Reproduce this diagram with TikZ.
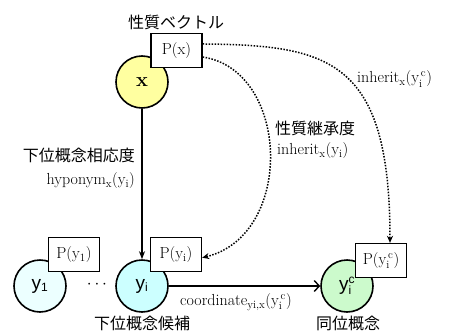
\documentclass[tikz,border=0pt]{standalone}
\usepackage{fontspec}
\newfontfamily\jp{Noto Sans CJK JP}
\newfontfamily\ysans{Liberation Sans}
\usetikzlibrary{arrows.meta}
\definecolor{xfill}{RGB}{255,255,160}
\definecolor{yonefill}{RGB}{236,255,255}
\definecolor{yifill}{RGB}{204,255,255}
\definecolor{ycfill}{RGB}{204,250,204}
\newcommand{\ssc}[1]{\hbox{\ysans\fontsize{12}{12}\selectfont #1}}
\begin{document}
\begin{tikzpicture}[x=1pt,y=-1pt,
 concept/.style={circle,draw=black,line width=1.6pt,minimum size=52pt,inner sep=0pt},
 pbox/.style={rectangle,draw=black,fill=white,line width=1.3pt,minimum width=51pt,minimum height=34pt,inner sep=0pt,font=\fontsize{16}{18}\selectfont},
 jlabel/.style={font=\jp\fontsize{16}{18}\selectfont,inner sep=0pt},
 mlabel/.style={font=\fontsize{16}{18}\selectfont,inner sep=0pt},
 clabel/.style={font=\ysans\fontsize{19}{21}\selectfont},
 dotarrow/.style={line width=1.5pt,dash pattern=on 1.5pt off 1.5pt,-{Stealth[length=7pt,width=6pt]}},
 solidarrow/.style={line width=1.4pt},
]
\useasboundingbox (0,0) rectangle (452,332);
% circles
\node[concept,fill=xfill,font=\bfseries\fontsize{20}{22}\selectfont] (x) at (142,82) {x};
\node[concept,fill=yonefill,clabel] (y1) at (40,286) {y$_{\ssc{1}}$};
\node[concept,fill=yifill,clabel] (yi) at (142,286) {y$_{\ssc{i}}$};
\node[concept,fill=ycfill,clabel] (yc) at (347,286) {y$_{\ssc{i}}^{\ssc{c}}$};
% property boxes
\node[pbox] (Px) at (176.5,50.5) {P(x)};
\node[pbox] (Py1) at (74,254.5) {P($\mathrm{y_1}$)};
\node[pbox] (Pyi) at (176,254.5) {P($\mathrm{y_i}$)};
\node[pbox] (Pyc) at (381,260.5) {P($\mathrm{y_i^{\,c}}$)};
% dots
\node[mlabel] (dots) at (97,285) {$\cdots$};
% labels
\node[jlabel] (lvec) at (176,22) {性質ベクトル};
\node[jlabel,anchor=east] (lhyp) at (135,155) {下位概念相応度};
\node[mlabel,anchor=east] (lhypf) at (135,181) {hyponym$_\mathrm{x}$($\mathrm{y_i}$)};
\node[jlabel,anchor=west] (linh) at (275,128) {性質継承度};
\node[mlabel,anchor=west] (linhf) at (277,151) {inherit$_\mathrm{x}$($\mathrm{y_i}$)};
\node[mlabel,anchor=west] (linhc) at (357,79) {inherit$_\mathrm{x}$($\mathrm{y_i^{\,c}}$)};
\node[mlabel,anchor=west] (lcoord) at (180,302) {coordinate$_\mathrm{yi,x}$($\mathrm{y_i^{\,c}}$)};
\node[jlabel] (lcand) at (142,323) {下位概念候補};
\node[jlabel] (lcoo) at (348,323) {同位概念};
% connectors
\draw[solidarrow,-{Stealth[length=8pt,width=6pt]}] (x) -- (yi);
\draw[solidarrow,-{Straight Barb[length=5pt,width=11pt]}] (yi) -- (yc);
\draw[dotarrow] (Px.14) .. controls (330,45) and (390,60) .. (Pyc.63);
\draw[dotarrow] (Px.-14) .. controls (290,70) and (295,235) .. (Pyi.-7);
\end{tikzpicture}
\end{document}
